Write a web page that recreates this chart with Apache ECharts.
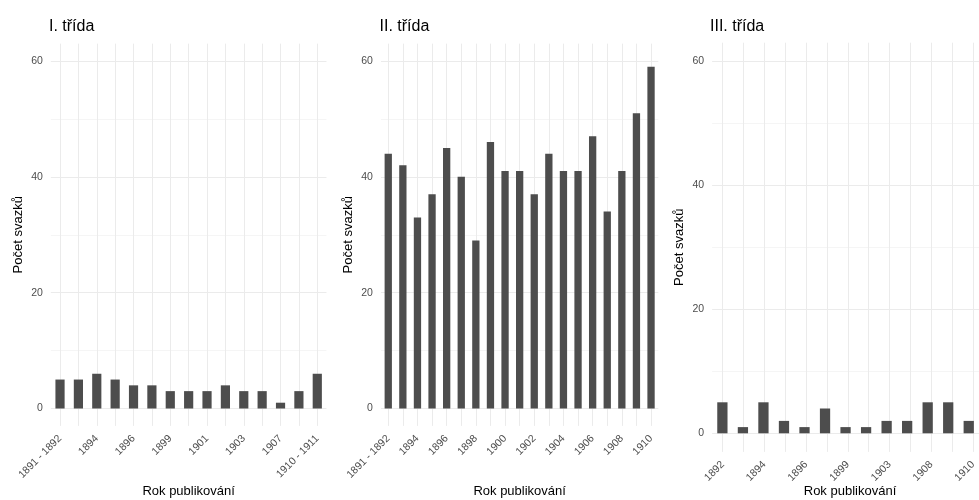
<!DOCTYPE html>
<html><head><meta charset="utf-8">
<script src="https://cdn.jsdelivr.net/npm/echarts@6/dist/echarts.min.js"></script>
<style>html,body{margin:0;padding:0;background:#fff}#c{width:979px;height:500px}</style>
</head><body><div id="c"></div>
<script>
// ---- data ----
const titles = ["I. třída", "II. třída", "III. třída"];
const cat1 = ["1891 - 1892","1893","1894","1895","1896","1898","1899","1900","1901","1902","1903","1906","1907","1909","1910 - 1911"];
const val1 = [5,5,6,5,4,4,3,3,3,4,3,3,1,3,6];
const cat2 = ["1891 - 1892","1893","1894","1895","1896","1897","1898","1899","1900","1901","1902","1903","1904","1905","1906","1907","1908","1909","1910"];
const val2 = [44,42,33,37,45,40,29,46,41,41,37,44,41,41,47,34,41,51,59];
const cat3 = ["1892","1893","1894","1895","1896","1898","1899","1901","1903","1906","1908","1909","1910"];
const val3 = [5,1,5,2,1,4,1,1,2,2,5,5,2];
const yTicks = [0, 20, 40, 60];
const xTitle = "Rok publikování";
const yTitle = "Počet svazků";

// ---- layout (pixels) ----
const FONT = "Liberation Sans, Arial, sans-serif";
const panels = [
  {cats: cat1, vals: val1, L: 49,    W: 279.3, y60: 61,   y0: 408.5},
  {cats: cat2, vals: val2, L: 379.5, W: 280.3, y60: 61,   y0: 408.5},
  {cats: cat3, vals: val3, L: 710,   W: 280,   y60: 61.3, y0: 433.3}
];
const GRID = "#EBEBEB";
const TXT = "#4D4D4D";

const grid = [], xAxis = [], yAxis = [], series = [], graphic = [], title = [];
panels.forEach((p, k) => {
  const n = p.cats.length;
  const step = p.W / (n + 0.2);
  const ppu = (p.y0 - p.y60) / 60;
  const top = p.y60 - 3 * ppu, bottom = p.y0 + 3 * ppu;
  // background grid for vertical lines and x labels
  grid.push({left: p.L + 0.6 * step, width: (n - 1) * step, top: top, height: bottom - top});
  const gA = grid.length - 1;
  xAxis.push({gridIndex: gA, type: 'category', data: p.cats, boundaryGap: false,
    axisLine: {show: false}, axisTick: {show: false},
    splitLine: {show: true, interval: 0, lineStyle: {color: GRID, width: 1}},
    axisLabel: {interval: 1, rotate: 45, margin: 11, fontSize: 10.5, color: TXT, fontFamily: FONT}});
  yAxis.push({gridIndex: gA, type: 'value', min: 0, max: 1, show: false});
  // bar grid
  grid.push({left: p.L + 0.1 * step, width: n * step, top: p.y60, height: p.y0 - p.y60});
  const gB = grid.length - 1;
  xAxis.push({gridIndex: gB, type: 'category', data: p.cats, show: false});
  yAxis.push({gridIndex: gB, type: 'value', min: yTicks[0], max: yTicks[yTicks.length - 1], interval: 20,
    axisLine: {show: false}, axisTick: {show: false},
    axisLabel: {fontSize: 10.5, color: TXT, margin: 8, fontFamily: FONT},
    splitLine: {show: true, lineStyle: {color: GRID, width: 1}},
    minorTick: {show: false, splitNumber: 2},
    minorSplitLine: {show: true, lineStyle: {color: '#F2F2F2', width: 0.8}}});
  series.push({type: 'bar', xAxisIndex: xAxis.length - 1, yAxisIndex: yAxis.length - 1,
    data: p.vals, barWidth: '50%', itemStyle: {color: '#4D4D4D'}, silent: true, animation: false});
  title.push({text: titles[k], left: p.L, top: 19, padding: 0,
    textStyle: {fontSize: 16, fontWeight: 'normal', color: '#000', fontFamily: FONT}});
  graphic.push({type: 'text', x: p.L + p.W / 2, y: 491,
    style: {text: xTitle, x: 0, y: 0, align: 'center', verticalAlign: 'middle', fontSize: 13, fill: '#000', fontFamily: FONT}});
  graphic.push({type: 'text', x: p.L - 31, y: (top + bottom) / 2, rotation: Math.PI / 2,
    style: {text: yTitle, x: 0, y: 0, align: 'center', verticalAlign: 'middle', fontSize: 13, fill: '#000', fontFamily: FONT}});
});

const chart = echarts.init(document.getElementById('c'), null, {renderer: 'canvas'});
chart.setOption({animation: false, backgroundColor: '#fff', title, grid, xAxis, yAxis, series, graphic});
</script></body></html>
